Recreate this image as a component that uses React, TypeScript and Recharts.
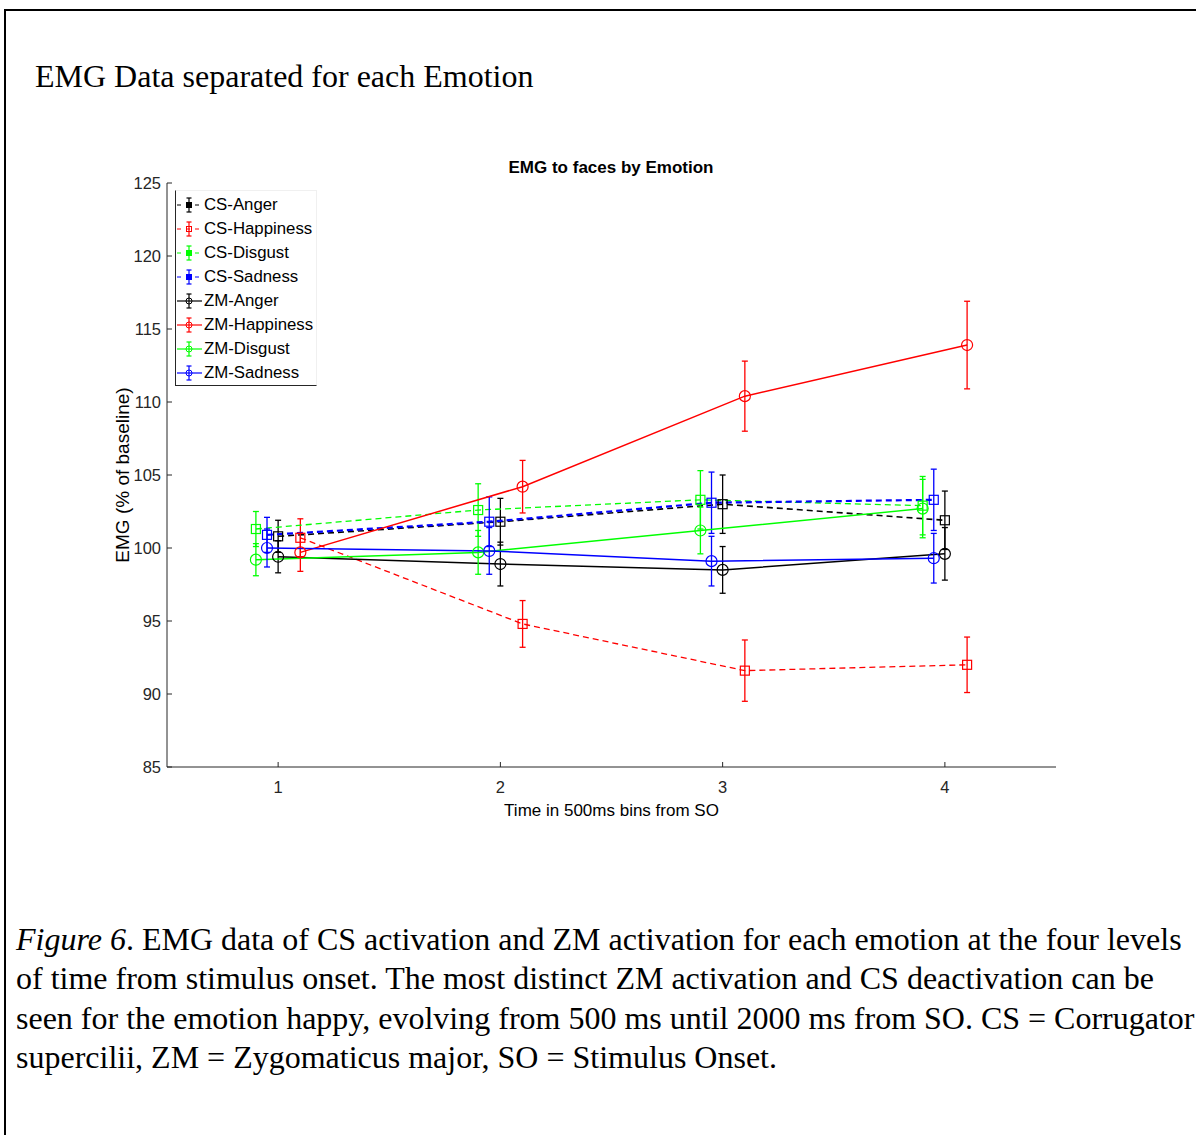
import React from "react";
import { ComposedChart, Line, XAxis, YAxis, ErrorBar, Label } from "recharts";

// time bins (500 ms each, from stimulus onset)
const times = [1, 2, 3, 4];
const yTicks = [85, 90, 95, 100, 105, 110, 115, 120, 125];

// means (% of baseline)
const csAnger = [100.8, 101.8, 103.0, 101.9];
const csHappiness = [100.7, 94.8, 91.6, 92.0];
const csDisgust = [101.3, 102.6, 103.3, 102.9];
const csSadness = [100.9, 101.8, 103.1, 103.3];
const zmAnger = [99.4, 98.9, 98.5, 99.6];
const zmHappiness = [99.7, 104.2, 110.4, 113.9];
const zmDisgust = [99.2, 99.7, 101.2, 102.7];
const zmSadness = [100.0, 99.8, 99.1, 99.3];

// error bar half-lengths
const csAngerErr = [1.1, 1.6, 2.0, 2.0];
const csHappinessErr = [1.3, 1.6, 2.1, 1.9];
const csDisgustErr = [1.2, 1.8, 2.0, 2.0];
const csSadnessErr = [1.2, 1.7, 2.1, 2.1];
const zmAngerErr = [1.1, 1.5, 1.6, 1.8];
const zmHappinessErr = [1.3, 1.8, 2.4, 3.0];
const zmDisgustErr = [1.1, 1.5, 1.6, 2.0];
const zmSadnessErr = [1.3, 1.6, 1.7, 1.7];

const captionLines = [
  "EMG data of CS activation and ZM activation for each emotion at the four levels",
  "of time from stimulus onset. The most distinct ZM activation and CS deactivation can be",
  "seen for the emotion happy, evolving from 500 ms until 2000 ms from SO. CS = Corrugator",
  "supercilii, ZM = Zygomaticus major, SO = Stimulus Onset.",
];

// emotion -> colour and horizontal dodge
const emotionStyle: Record<string, { color: string; shift: number }> = {
  Anger: { color: "#000000", shift: 0 },
  Happiness: { color: "#ff0000", shift: 0.1 },
  Disgust: { color: "#00ff00", shift: -0.1 },
  Sadness: { color: "#0000ff", shift: -0.05 },
};

type Series = {
  name: string;
  emotion: string;
  muscle: "CS" | "ZM";
  values: number[];
  errs: number[];
  width: number;
};

const series: Series[] = [
  { name: "CS-Anger", emotion: "Anger", muscle: "CS", values: csAnger, errs: csAngerErr, width: 1.6 },
  { name: "CS-Happiness", emotion: "Happiness", muscle: "CS", values: csHappiness, errs: csHappinessErr, width: 1.3 },
  { name: "CS-Disgust", emotion: "Disgust", muscle: "CS", values: csDisgust, errs: csDisgustErr, width: 1.3 },
  { name: "CS-Sadness", emotion: "Sadness", muscle: "CS", values: csSadness, errs: csSadnessErr, width: 2.2 },
  { name: "ZM-Anger", emotion: "Anger", muscle: "ZM", values: zmAnger, errs: zmAngerErr, width: 1.5 },
  { name: "ZM-Happiness", emotion: "Happiness", muscle: "ZM", values: zmHappiness, errs: zmHappinessErr, width: 1.5 },
  { name: "ZM-Disgust", emotion: "Disgust", muscle: "ZM", values: zmDisgust, errs: zmDisgustErr, width: 1.5 },
  { name: "ZM-Sadness", emotion: "Sadness", muscle: "ZM", values: zmSadness, errs: zmSadnessErr, width: 1.5 },
];

const SANS = "'Liberation Sans', Arial, sans-serif";
const SERIF = "'Liberation Serif', 'Times New Roman', serif";
const AXIS = "#262626";

const makeDot = (s: Series) => (props: any) => {
  const { cx, cy, index } = props;
  const color = emotionStyle[s.emotion].color;
  if (cx == null || cy == null) return <g key={`${s.name}-${index}`} />;
  if (s.muscle === "CS") {
    return (
      <rect key={`${s.name}-${index}`} x={cx - 4.5} y={cy - 4.5} width={9} height={9}
        fill="none" stroke={color} strokeWidth={1.2} />
    );
  }
  return <circle key={`${s.name}-${index}`} cx={cx} cy={cy} r={5.5} fill="none" stroke={color} strokeWidth={1.2} />;
};

const YTick = (props: any) => {
  const { x, y, payload } = props;
  return (
    <g>
      <text x={x} y={y} dy="0.355em" textAnchor="end" fontSize={16.5} fontFamily={SANS} fill={AXIS}>
        {payload.value}
      </text>
      <line x1={x + 6} x2={x + 11} y1={y} y2={y} stroke={AXIS} />
    </g>
  );
};

const XTick = (props: any) => {
  const { x, y, payload } = props;
  return (
    <g>
      <text x={x} y={y} dy="0.71em" textAnchor="middle" fontSize={16.5} fontFamily={SANS} fill={AXIS}>
        {payload.value}
      </text>
      <line x1={x} x2={x} y1={y - 14} y2={y - 19} stroke={AXIS} />
    </g>
  );
};

function LegendBox() {
  return (
    <div
      style={{
        position: "absolute",
        left: 175,
        top: 190,
        width: 140,
        height: 192,
        paddingTop: 2,
        background: "#fff",
        borderLeft: `1px solid ${AXIS}`,
        borderBottom: `1px solid ${AXIS}`,
        borderTop: "1px solid #f0f0f0",
        borderRight: "1px solid #f0f0f0",
        fontFamily: SANS,
        fontSize: 16.8,
        color: "#000",
      }}
    >
      {series.map((s) => {
        const color = emotionStyle[s.emotion].color;
        return (
          <div key={s.name} style={{ height: 24, display: "flex", alignItems: "center" }}>
            <svg width={28} height={24} style={{ flex: "none" }}>
              <line x1={1} x2={26} y1={12} y2={12} stroke={color} strokeWidth={1.2}
                strokeDasharray={s.muscle === "CS" ? "4 5" : undefined} />
              <line x1={13} x2={13} y1={5} y2={19} stroke={color} strokeWidth={1.2} />
              <line x1={10.5} x2={15.5} y1={5} y2={5} stroke={color} strokeWidth={1.2} />
              <line x1={10.5} x2={15.5} y1={19} y2={19} stroke={color} strokeWidth={1.2} />
              {s.muscle === "CS" ? (
                <rect x={10.5} y={9.5} width={5} height={5} fill={s.emotion === "Happiness" ? "none" : color} stroke={color} />
              ) : (
                <circle cx={13} cy={12} r={3} fill="none" stroke={color} />
              )}
            </svg>
            <span style={{ whiteSpace: "nowrap" }}>{s.name}</span>
          </div>
        );
      })}
    </div>
  );
}

export default function App() {
  return (
    <div style={{ position: "fixed", left: 0, top: 0, width: 1196, height: 1135, overflow: "hidden", background: "#fff" }}>
      <div style={{ position: "absolute", left: 4, top: 9, width: 1400, height: 1400, border: "2.5px solid #000" }} />

      <div style={{ position: "absolute", left: 35, top: 60, fontFamily: SERIF, fontSize: 32, lineHeight: "32px", whiteSpace: "nowrap" }}>
        EMG Data separated for each Emotion
      </div>

      <div style={{ position: "absolute", left: 411, top: 158, width: 400, textAlign: "center", fontFamily: SANS, fontWeight: "bold", fontSize: 17, lineHeight: "20px" }}>
        EMG to faces by Emotion
      </div>

      <div style={{ position: "absolute", left: 60, top: 140 }}>
        <ComposedChart width={1016} height={687} margin={{ top: 43, right: 20, left: 50, bottom: 0 }}>
          <XAxis
            dataKey="x"
            type="number"
            domain={[0.5, 4.5]}
            ticks={times}
            allowDataOverflow
            height={60}
            tickSize={0}
            tickMargin={14}
            tickLine={false}
            tick={<XTick />}
            axisLine={{ stroke: AXIS }}
          >
            <Label value="Time in 500ms bins from SO" position="insideBottom" offset={11}
              style={{ fontFamily: SANS, fontSize: 17, fill: "#000" }} />
          </XAxis>
          <YAxis
            type="number"
            domain={[85, 125]}
            ticks={yTicks}
            allowDataOverflow
            width={57}
            tickSize={0}
            tickMargin={6}
            tickLine={false}
            tick={<YTick />}
            axisLine={{ stroke: AXIS }}
          >
            <Label value="EMG (% of baseline)" angle={-90} position="insideLeft" offset={12}
              style={{ fontFamily: SANS, fontSize: 19, fill: "#000", textAnchor: "middle" }} />
          </YAxis>
          {series.map((s) => {
            const st = emotionStyle[s.emotion];
            const data = times.map((t, i) => ({ x: t + st.shift, y: s.values[i], err: s.errs[i] }));
            return (
              <Line
                key={s.name}
                name={s.name}
                data={data}
                dataKey="y"
                type="linear"
                stroke={st.color}
                strokeWidth={s.width}
                strokeDasharray={s.muscle === "CS" ? "6 4" : undefined}
                dot={makeDot(s)}
                activeDot={false}
                isAnimationActive={false}
              >
                <ErrorBar dataKey="err" direction="y" width={3} stroke={st.color} strokeWidth={1.3} isAnimationActive={false} />
              </Line>
            );
          })}
        </ComposedChart>
      </div>

      <LegendBox />

      <div style={{ position: "absolute", left: 16, top: 920, fontFamily: SERIF, fontSize: 32, lineHeight: "39.3px", whiteSpace: "nowrap" }}>
        {captionLines.map((line, i) => (
          <div key={i}>
            {i === 0 && <><i>Figure 6</i>. </>}
            {line}
          </div>
        ))}
      </div>
    </div>
  );
}
